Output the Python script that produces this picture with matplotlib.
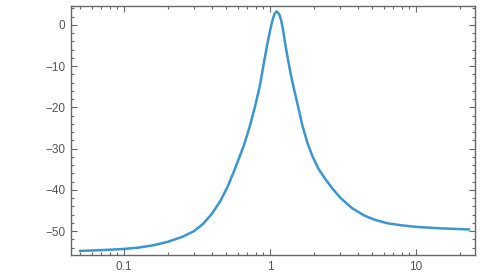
import numpy as np
import matplotlib.pyplot as plt
from matplotlib.ticker import LogLocator, MultipleLocator, FixedLocator

# values (frequency, dB)
freq = [0.0501, 0.0631, 0.0794, 0.1, 0.1259, 0.1585, 0.1995, 0.2512, 0.302,
        0.3467, 0.3981, 0.4571, 0.5129, 0.5754, 0.6607, 0.7244, 0.7943, 0.8511,
        0.912, 0.955, 0.9772, 1.0, 1.0233, 1.0471, 1.0715, 1.1117, 1.1535,
        1.183, 1.2023, 1.2274, 1.2503, 1.2735, 1.3335, 1.3964, 1.4757, 1.5488,
        1.6596, 1.803, 1.9498, 2.138, 2.4044, 2.6915, 3.0479, 3.6308, 4.3954,
        5.2481, 6.3533, 7.9433, 10.186, 14.125, 17.783, 22.96]
gain = [-54.8, -54.68, -54.53, -54.33, -54.0, -53.45, -52.6, -51.4, -50.0,
        -48.3, -45.9, -42.7, -39.2, -34.9, -29.3, -24.8, -19.4, -14.8,
        -8.8, -4.9, -3.1, -1.4, 0.2, 1.5, 2.65, 3.3, 2.65,
        1.5, 0.5, -1.2, -3.0, -4.8, -8.8, -12.5, -16.3, -19.5,
        -24.2, -28.6, -31.8, -34.8, -37.5, -39.8, -42.0, -44.4, -46.2,
        -47.3, -48.1, -48.6, -49.0, -49.3, -49.45, -49.6]

xticks = [0.1, 1, 10]
xticklabels = ["0.1", "1", "10"]

plt.rcParams['font.family'] = ['Liberation Sans', 'DejaVu Sans']

fig = plt.figure(figsize=(4.8, 2.75), dpi=100)
ax = fig.add_axes([71/480, 20/275, 404/480, 249/275])

ax.plot(freq, gain, color="#3a96cc", lw=1.8, solid_joinstyle="round")

ax.set_xscale("log")
ax.set_xlim(0.0434, 25.3)
ax.set_ylim(-55.8, 4.6)

ax.xaxis.set_major_locator(FixedLocator(xticks))
ax.set_xticklabels(xticklabels)
ax.xaxis.set_minor_locator(LogLocator(base=10, subs=np.arange(2, 10)))
ax.xaxis.set_minor_formatter(plt.NullFormatter())
ax.yaxis.set_major_locator(MultipleLocator(10))
ax.yaxis.set_minor_locator(MultipleLocator(2))
ax.yaxis.set_major_formatter(plt.FuncFormatter(lambda v, p: f"{int(round(v))}".replace("-", "\u2212")))

gray = "#666666"
for s in ax.spines.values():
    s.set_color(gray)
    s.set_linewidth(1.0)
ax.tick_params(which="both", direction="in", top=True, right=True,
               color=gray, labelcolor="#555555", labelsize=8.5, width=0.8)
ax.tick_params(which="major", length=4.5, pad=4)
ax.tick_params(which="minor", length=2.5)

fig.savefig("out.png", dpi=100)
